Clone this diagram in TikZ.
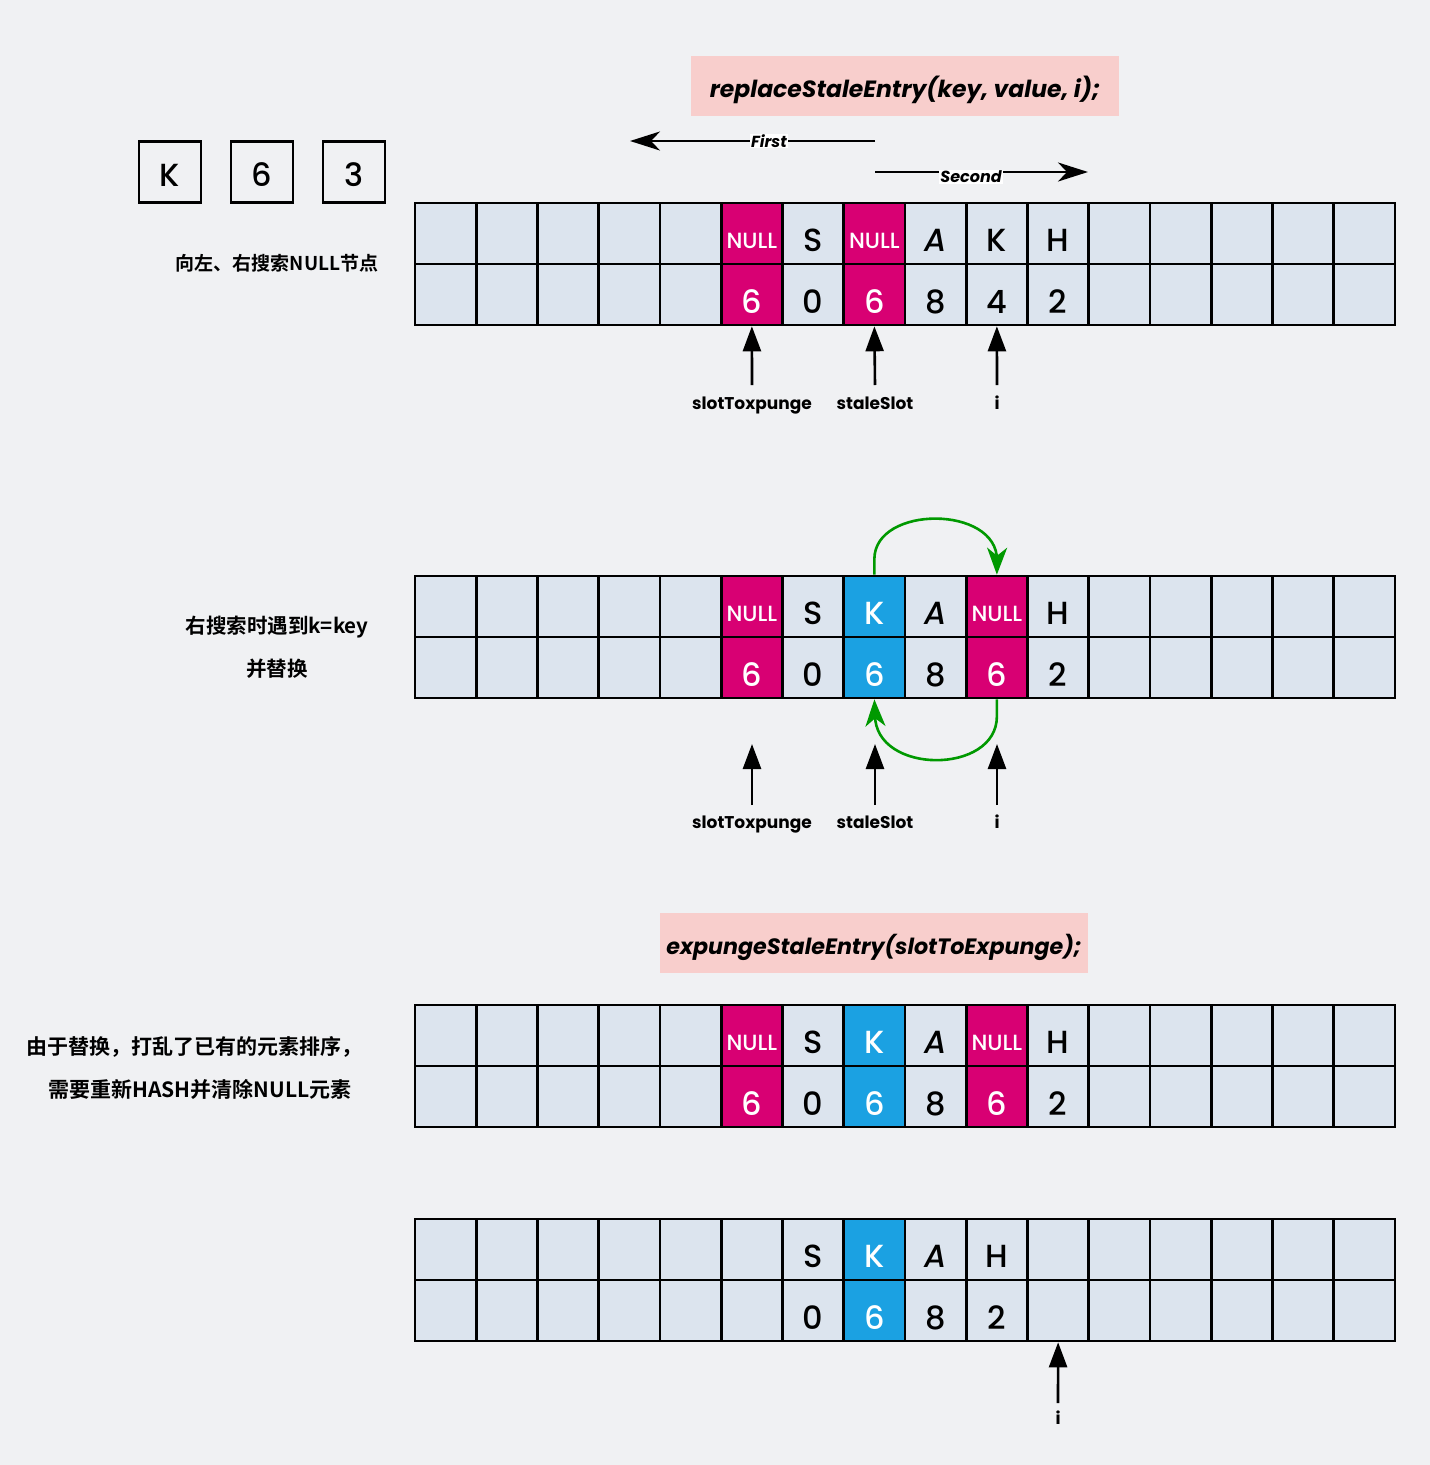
\documentclass[tikz,border=0pt]{standalone}
\usepackage{fontspec}
\usetikzlibrary{arrows.meta}
\setmainfont{Poppins}
\newfontfamily\celf{Poppins}[UprightFont=* Medium, ItalicFont=* Medium Italic]
\newfontfamily\cjkb{Noto Sans CJK SC Bold}
\definecolor{bg}{RGB}{240,241,243}
\definecolor{cellc}{RGB}{220,228,238}
\definecolor{mag}{HTML}{D80073}
\definecolor{blu}{HTML}{1BA1E2}
\definecolor{pinkc}{HTML}{F8CECC}
\definecolor{grn}{RGB}{0,153,0}
\newcommand\nullf{\fontsize{22}{22}\selectfont}
\newcommand\cellp[7]{%
  \node[cell, fill=#4] (#1t#2) at ({415+61.25*(#2+0.5)}, {#3+30.5}) {};
  \node[cell, fill=#4] (#1b#2) at ({415+61.25*(#2+0.5)}, {#3+91.5}) {};
  \node[celltxt, text=#5] (#1tt#2) at ([yshift=-7pt]#1t#2.center) {#6};
  \node[celltxt, text=#5] (#1bt#2) at ([yshift=-7pt]#1b#2.center) {#7};
}
\tikzset{
  cell/.style={draw=black, line width=2.6pt, minimum width=61.25pt, minimum height=61pt, inner sep=0pt},
  celltxt/.style={inner sep=0pt, font=\celf\fontsize{32}{32}\selectfont},
  keybox/.style={draw=black, line width=2.6pt, fill=bg, minimum width=62pt, minimum height=61pt, inner sep=0pt},
  ptr/.style={line width=2.6pt, -{Triangle[length=25pt,width=18pt]}},
  bigarr/.style={line width=2.6pt, -{Stealth[length=30pt,width=19pt,inset=9pt]}},
  grarr/.style={draw=grn, line width=2.6pt, -{Stealth[length=27pt,width=20pt,inset=8pt]}, grn},
  plabel/.style={inner sep=0pt, text height=12pt, text depth=4pt, font=\bfseries\fontsize{17}{17}\selectfont},
  arrlab/.style={fill=white, inner sep=1pt, font=\bfseries\itshape\fontsize{16}{16}\selectfont},
  codebox/.style={fill=pinkc, inner sep=0pt, font=\bfseries\itshape\fontsize{23.5}{24}\selectfont},
  cjklab/.style={inner sep=0pt, font=\cjkb\fontsize{19}{19}\selectfont},
}
\begin{document}
\begin{tikzpicture}[x=1pt,y=-1pt]
\useasboundingbox (0,0) rectangle (1430,1465);
\fill[bg] (0,0) rectangle (1430,1465);

% title box 1
\node[codebox, minimum width=428pt, minimum height=60pt] (code1) at (905,86) {};
\node[codebox, fill=none] (code1t) at (905,90) {replaceStaleEntry(key, value, i);};

% first / second arrows
\coordinate (f0) at (875,141);
\coordinate (f1) at (630,141);
\draw[bigarr] (f0) -- (f1);
\node[arrlab] (flab) at (769,141) {First};
\coordinate (s0) at (875,172);
\coordinate (s1) at (1088,172);
\draw[bigarr] (s0) -- (s1);
\node[arrlab] (slab) at (971,177) {Second};

% key boxes
\node[keybox] (kK) at (170,172) {};
\node[celltxt] (kKt) at (170,175) {K};
\node[keybox] (k6) at (262,172) {};
\node[celltxt] (k6t) at (262,175) {6};
\node[keybox] (k3) at (354,172) {};
\node[celltxt] (k3t) at (354,175) {3};

\node[cjklab] (lab1) at (277,263) {向左、右搜索NULL节点};

% array A
\foreach \i in {0,...,15} {\cellp{A}{\i}{203}{cellc}{black}{}{}}
\cellp{A}{5}{203}{mag}{white}{\nullf NULL}{6}
\cellp{A}{6}{203}{cellc}{black}{S}{0}
\cellp{A}{7}{203}{mag}{white}{\nullf NULL}{6}
\cellp{A}{8}{203}{cellc}{black}{\itshape A}{8}
\cellp{A}{9}{203}{cellc}{black}{K}{4}
\cellp{A}{10}{203}{cellc}{black}{H}{2}

\node[plabel] (la1) at (752,405) {slotToxpunge};
\node[plabel] (la2) at (875,405) {staleSlot};
\node[plabel] (la3) at (997,405) {i};
\coordinate (pa1) at (752,385);
\coordinate (pa2) at (875,385);
\coordinate (pa3) at (997,385);
\draw[ptr] (pa1) -- (Ab5.south);
\draw[ptr] (pa2) -- (Ab7.south);
\draw[ptr] (pa3) -- (Ab9.south);

% array B
\node[cjklab, font=\cjkb\fontsize{20.5}{20.5}\selectfont] (lab2) at (277,627) {右搜索时遇到k=key};
\node[cjklab, font=\cjkb\fontsize{20.5}{20.5}\selectfont] (lab3) at (277,669) {并替换};
\foreach \i in {0,...,15} {\cellp{B}{\i}{576}{cellc}{black}{}{}}
\cellp{B}{5}{576}{mag}{white}{\nullf NULL}{6}
\cellp{B}{6}{576}{cellc}{black}{S}{0}
\cellp{B}{7}{576}{blu}{white}{K}{6}
\cellp{B}{8}{576}{cellc}{black}{\itshape A}{8}
\cellp{B}{9}{576}{mag}{white}{\nullf NULL}{6}
\cellp{B}{10}{576}{cellc}{black}{H}{2}

\draw[grarr] (Bt7.north) -- ++(0,-16) .. controls (875,505) and (997,505) .. (997,560) -- (Bt9.north);
\draw[grarr] (Bb9.south) -- ++(0,17) .. controls (997,775) and (875,775) .. (875,715) -- (Bb7.south);

\node[plabel] (lb1) at (752,824) {slotToxpunge};
\node[plabel] (lb2) at (875,824) {staleSlot};
\node[plabel] (lb3) at (997,824) {i};
\coordinate (pb1) at (752,805);
\coordinate (pb2) at (875,805);
\coordinate (pb3) at (997,805);
\coordinate (qb1) at (752,744);
\coordinate (qb2) at (875,744);
\coordinate (qb3) at (997,744);
\draw[ptr] (pb1) -- (qb1);
\draw[ptr] (pb2) -- (qb2);
\draw[ptr] (pb3) -- (qb3);

% title box 2
\node[codebox, minimum width=428pt, minimum height=60pt] (code2) at (874,943) {};
\node[codebox, fill=none, font=\bfseries\itshape\fontsize{22.2}{23}\selectfont] (code2t) at (874,947) {expungeStaleEntry(slotToExpunge);};

% array C
\node[cjklab, font=\cjkb\fontsize{21}{21}\selectfont] (lab4) at (195,1047) {由于替换，打乱了已有的元素排序，};
\node[cjklab, font=\cjkb\fontsize{21}{21}\selectfont] (lab5) at (200,1089) {需要重新HASH并清除NULL元素};
\foreach \i in {0,...,15} {\cellp{C}{\i}{1005}{cellc}{black}{}{}}
\cellp{C}{5}{1005}{mag}{white}{\nullf NULL}{6}
\cellp{C}{6}{1005}{cellc}{black}{S}{0}
\cellp{C}{7}{1005}{blu}{white}{K}{6}
\cellp{C}{8}{1005}{cellc}{black}{\itshape A}{8}
\cellp{C}{9}{1005}{mag}{white}{\nullf NULL}{6}
\cellp{C}{10}{1005}{cellc}{black}{H}{2}

% array D
\foreach \i in {0,...,15} {\cellp{D}{\i}{1219}{cellc}{black}{}{}}
\cellp{D}{6}{1219}{cellc}{black}{S}{0}
\cellp{D}{7}{1219}{blu}{white}{K}{6}
\cellp{D}{8}{1219}{cellc}{black}{\itshape A}{8}
\cellp{D}{9}{1219}{cellc}{black}{H}{2}

\node[plabel] (ld1) at (1058,1420) {i};
\coordinate (pd1) at (1058,1403);
\draw[ptr] (pd1) -- (Db10.south);
\end{tikzpicture}
\end{document}
